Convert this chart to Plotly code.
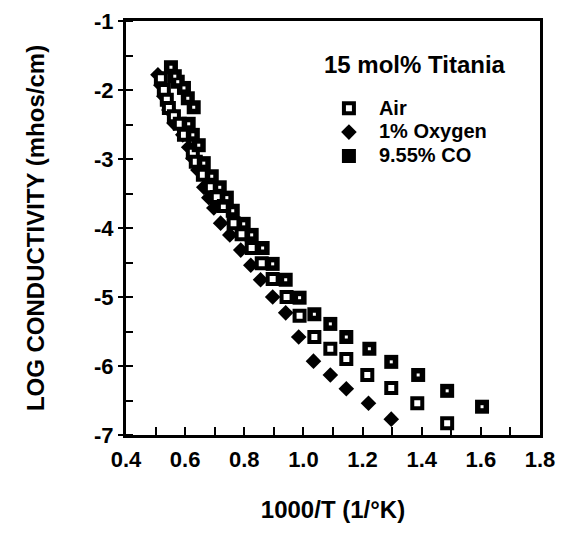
import plotly.graph_objects as go

# Data (1000/T vs log conductivity)
oxygen_x = [0.508, 0.518, 0.528, 0.545, 0.562, 0.592, 0.612, 0.626, 0.643, 0.663, 0.680, 0.697, 0.720,
            0.751, 0.788, 0.822, 0.855, 0.896, 0.940, 0.984, 1.034, 1.091, 1.145, 1.220, 1.297]
oxygen_y = [-1.78, -1.93, -2.09, -2.29, -2.48, -2.65, -2.83, -2.99, -3.16, -3.41, -3.56, -3.71, -3.93,
            -4.10, -4.32, -4.54, -4.75, -5.00, -5.23, -5.58, -5.93, -6.13, -6.33, -6.54, -6.77]

air_x = [0.518, 0.528, 0.538, 0.545, 0.562, 0.582, 0.596, 0.626, 0.636, 0.660, 0.687, 0.707, 0.731, 0.764,
         0.791, 0.825, 0.859, 0.896, 0.943, 0.987, 1.037, 1.091, 1.145, 1.216, 1.297, 1.385, 1.486]
air_y = [-1.83, -2.00, -2.14, -2.26, -2.38, -2.49, -2.65, -2.91, -3.04, -3.23, -3.41, -3.55, -3.68, -3.93,
         -4.09, -4.29, -4.51, -4.74, -5.00, -5.27, -5.58, -5.75, -5.90, -6.13, -6.32, -6.54, -6.83]

co_x = [0.552, 0.565, 0.575, 0.596, 0.609, 0.629, 0.612, 0.626, 0.646, 0.663, 0.690, 0.717, 0.741, 0.761,
        0.798, 0.825, 0.862, 0.896, 0.940, 0.987, 1.037, 1.091, 1.145, 1.223, 1.297, 1.388, 1.486, 1.604]
co_y = [-1.67, -1.80, -1.88, -1.97, -2.12, -2.25, -2.49, -2.65, -2.80, -3.06, -3.25, -3.41, -3.56, -3.75,
        -3.94, -4.10, -4.29, -4.52, -4.75, -5.01, -5.25, -5.39, -5.58, -5.75, -5.94, -6.13, -6.36, -6.59]

y_tickvals = [-7, -6, -5, -4, -3, -2, -1]
y_ticktext = ["-7", "-6", "-5", "-4", "-3", "-2", "-1"]

FONT = "Liberation Sans, Arial, sans-serif"
BIG = "<span style='font-size:20px'>{}</span>"  # bigger legend text, tight rows

fig = go.Figure()

# draw order: oxygen, air, CO (legend order set with legendrank)
fig.add_trace(go.Scatter(
    x=oxygen_x, y=oxygen_y, mode="markers", name=BIG.format("1% Oxygen"), legendrank=2,
    marker=dict(symbol="diamond", size=12, color="black", line=dict(width=0))
))
fig.add_trace(go.Scatter(
    x=air_x, y=air_y, mode="markers", name=BIG.format("Air"), legendrank=1,
    marker=dict(symbol="square", size=10, color="white", line=dict(color="black", width=4))
))
fig.add_trace(go.Scatter(
    x=co_x, y=co_y, mode="markers", name=BIG.format("9.55% CO"), legendrank=3,
    marker=dict(symbol="square", size=14, color="black", line=dict(width=0))
))
# little white dot inside the CO squares
fig.add_trace(go.Scatter(
    x=co_x, y=co_y, mode="markers", showlegend=False, hoverinfo="skip",
    marker=dict(symbol="square", size=3, color="white", line=dict(width=0))
))

# legend heading as a plain annotation
fig.add_annotation(
    text="15 mol% Titania", xref="paper", yref="paper", x=0.473, y=0.894,
    xanchor="left", yanchor="middle", showarrow=False,
    font=dict(size=24, weight="bold")
)

# page body has an 8px margin, so the figure is a bit smaller than the window
fig.update_layout(
    width=559, height=531,
    margin=dict(l=118, r=27, t=13, b=104),
    plot_bgcolor="white", paper_bgcolor="white",
    font=dict(family=FONT, color="black", size=22, weight="bold"),
    showlegend=True,
    legend=dict(
        x=0.466, y=0.830, xanchor="left", yanchor="top",
        font=dict(size=16, weight="bold"),
        itemwidth=50, bgcolor="rgba(0,0,0,0)"
    ),
    xaxis=dict(
        range=[0.4, 1.8], dtick=0.2, tick0=0.4, tickformat=".1f", automargin=False,
        ticks="inside", ticklen=8, tickwidth=2, tickcolor="black",
        minor=dict(dtick=0.1, ticks="inside", ticklen=8, tickwidth=2, tickcolor="black"),
        showline=True, linewidth=3, linecolor="black", mirror=True,
        showgrid=False, zeroline=False, ticklabelstandoff=3,
        title=dict(text="1000/T (1/°K)", standoff=30, font=dict(size=24, weight="bold"))
    ),
    yaxis=dict(
        range=[-7, -1], tickvals=y_tickvals, ticktext=y_ticktext, automargin=False,
        ticks="outside", ticklen=5, tickwidth=2, tickcolor="black",
        minor=dict(dtick=0.5, ticks="inside", ticklen=7, tickwidth=2, tickcolor="black"),
        showline=True, linewidth=3, linecolor="black", mirror=True,
        showgrid=False, zeroline=False,
        title=dict(text="LOG CONDUCTIVITY (mhos/cm)", standoff=43, font=dict(size=24, weight="bold"))
    )
)

fig.write_html("out.html")
